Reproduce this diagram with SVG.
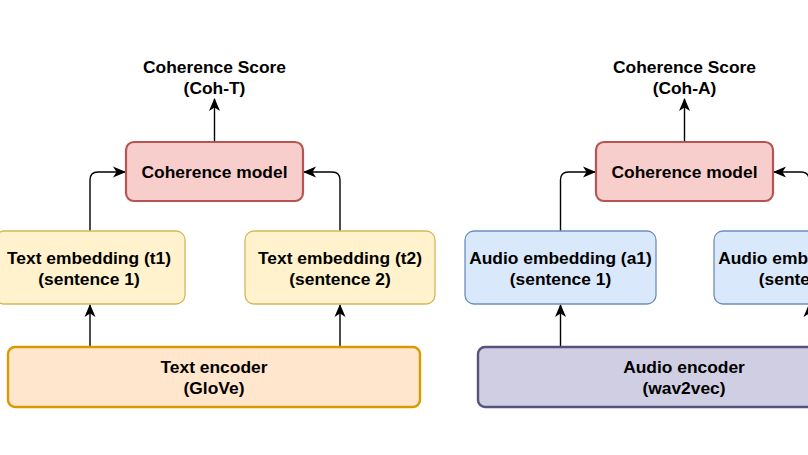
<svg xmlns="http://www.w3.org/2000/svg" width="808" height="455" viewBox="0 0 808 455">
<defs>
<style>
text{font-family:"Liberation Sans",Arial,sans-serif;font-weight:bold;font-size:17.4px;fill:#000;text-anchor:middle}
.cm{fill:#f8cecc;stroke:#b85450;stroke-width:2.2}
.te{fill:#fff2cc;stroke:#d6b656;stroke-width:1.3}
.tenc{fill:#ffe6cc;stroke:#d79b00;stroke-width:2.4}
.ae{fill:#dae8fc;stroke:#6c8ebf;stroke-width:1.3}
.aenc{fill:#d0cee2;stroke:#56517e;stroke-width:2.4}
.edge{fill:none;stroke:#000;stroke-width:1.4}
</style>
<marker id="arr" viewBox="0 0 13 13" refX="12" refY="6.5" markerWidth="13" markerHeight="13" markerUnits="userSpaceOnUse" orient="auto">
<path d="M0,1 L13,6.5 L0,12 L3.5,6.5 Z" fill="#000"/>
</marker>
</defs>
<rect width="808" height="455" fill="#fff"/>

<g id="connectors">
<path class="edge" marker-end="url(#arr)" d="M214.5,142 V99"/>
<path class="edge" marker-end="url(#arr)" d="M90,231 V180 Q90,172 98,172 H125"/>
<path class="edge" marker-end="url(#arr)" d="M340,231 V180 Q340,172 332,172 H304"/>
<path class="edge" marker-end="url(#arr)" d="M90,347 V305"/>
<path class="edge" marker-end="url(#arr)" d="M340,347 V305"/>
<path class="edge" marker-end="url(#arr)" d="M684.5,142 V99"/>
<path class="edge" marker-end="url(#arr)" d="M560.5,231 V180 Q560.5,172 568.5,172 H595"/>
<path class="edge" marker-end="url(#arr)" d="M809,231 V180 Q809,172 801,172 H774"/>
<path class="edge" marker-end="url(#arr)" d="M560.5,347 V305"/>
<path class="edge" marker-end="url(#arr)" d="M809,347 V305"/>
</g>

<g id="score-t">
<text x="214.5" y="73">Coherence Score</text>
<text x="214.5" y="94">(Coh-T)</text>
</g>
<g id="coherence-model-t">
<rect class="cm" x="126" y="142" width="177" height="59" rx="8"/>
<text x="214.5" y="178">Coherence model</text>
</g>
<g id="text-emb-1">
<rect class="te" x="-5" y="231" width="190" height="73" rx="9"/>
<text x="89" y="264">Text embedding (t1)</text>
<text x="89" y="285">(sentence 1)</text>
</g>
<g id="text-emb-2">
<rect class="te" x="245" y="231" width="190" height="73" rx="9"/>
<text x="340" y="264">Text embedding (t2)</text>
<text x="340" y="285">(sentence 2)</text>
</g>
<g id="text-encoder">
<rect class="tenc" x="8" y="347" width="412" height="60" rx="7"/>
<text x="214" y="373">Text encoder</text>
<text x="214" y="394">(GloVe)</text>
</g>

<g id="score-a">
<text x="684.5" y="73">Coherence Score</text>
<text x="684.5" y="94">(Coh-A)</text>
</g>
<g id="coherence-model-a">
<rect class="cm" x="596" y="142" width="177" height="59" rx="8"/>
<text x="684.5" y="178">Coherence model</text>
</g>
<g id="audio-emb-1">
<rect class="ae" x="465" y="231" width="191" height="73" rx="9"/>
<text x="560.5" y="264">Audio embedding (a1)</text>
<text x="560.5" y="285">(sentence 1)</text>
</g>
<g id="audio-emb-2">
<rect class="ae" x="714" y="231" width="191" height="73" rx="9"/>
<text x="809.5" y="264">Audio embedding (a2)</text>
<text x="809.5" y="285">(sentence 2)</text>
</g>
<g id="audio-encoder">
<rect class="aenc" x="478" y="347" width="412" height="60" rx="7"/>
<text x="684" y="373">Audio encoder</text>
<text x="684" y="394">(wav2vec)</text>
</g>
</svg>
